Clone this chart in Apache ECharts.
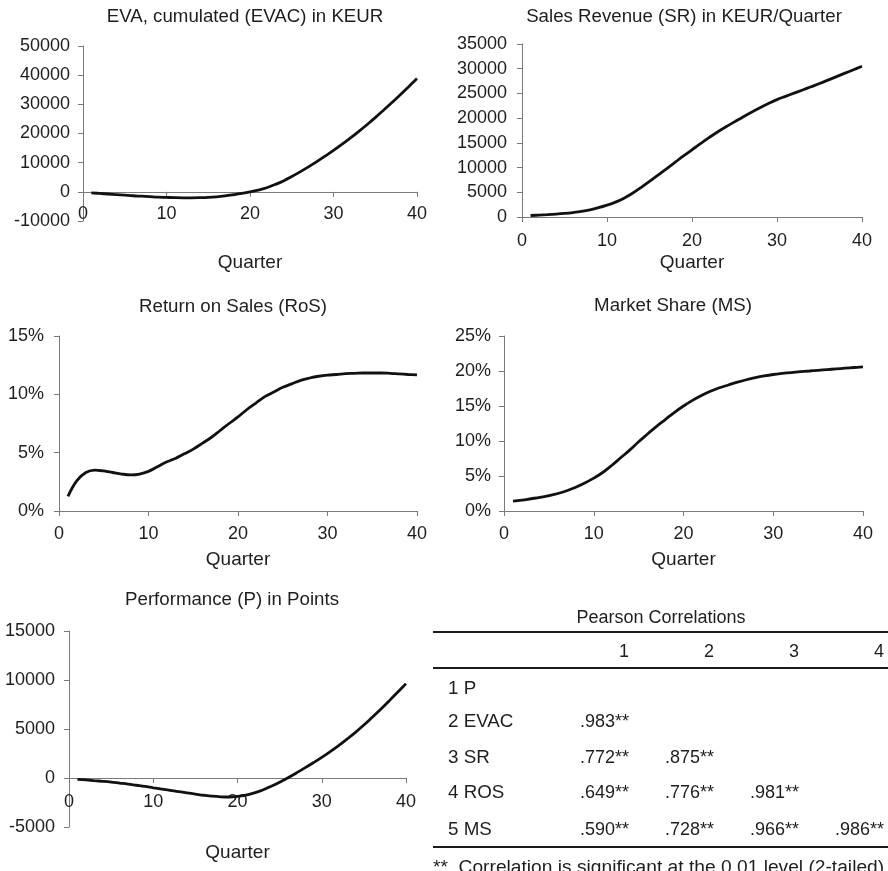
<!DOCTYPE html>
<html>
<head>
<meta charset="utf-8">
<script src="https://cdn.jsdelivr.net/npm/echarts@6/dist/echarts.min.js"></script>
<style>
html,body{margin:0;padding:0;background:#fff;}
#c{width:888px;height:871px;}
</style>
</head>
<body>
<div id="c"></div>
<script>
const quarters = [1,2,3,4,5,6,7,8,9,10,11,12,13,14,15,16,17,18,19,20,21,22,23,24,25,26,27,28,29,30,31,32,33,34,35,36,37,38,39,40];

const evac = [-350,-550,-750,-950,-1150,-1350,-1500,-1650,-1800,-1900,-2000,-2050,-2050,-2000,-1900,-1700,-1400,-1000,-550,0,
  600,1400,2500,3750,5250,6850,8550,10350,12250,14200,16250,18400,20650,23000,25450,28000,30600,33300,36050,38850];

const sr = [300,380,470,580,720,900,1130,1450,1880,2400,3000,3800,4800,5950,7200,8450,9750,11050,12350,13600,
  14850,16050,17200,18250,19250,20250,21200,22100,22950,23750,24400,25050,25700,26350,27000,27700,28400,29100,29800,30500];

const ros = [1.26,2.6,3.3,3.5,3.43,3.3,3.17,3.1,3.17,3.4,3.8,4.2,4.5,4.9,5.3,5.8,6.3,6.9,7.5,8.06,
  8.7,9.25,9.8,10.2,10.6,10.9,11.2,11.4,11.55,11.65,11.7,11.77,11.8,11.83,11.83,11.83,11.8,11.75,11.7,11.66];

const ms = [1.4,1.55,1.75,1.95,2.2,2.5,2.9,3.4,4.0,4.7,5.5,6.5,7.6,8.7,9.9,11.0,12.1,13.1,14.1,15.0,
  15.8,16.5,17.1,17.6,18.0,18.4,18.75,19.05,19.3,19.5,19.65,19.78,19.9,20.0,20.1,20.2,20.3,20.4,20.5,20.6];

const perf = [-150,-200,-270,-340,-420,-520,-620,-740,-860,-1000,-1130,-1260,-1400,-1520,-1640,-1760,-1860,-1920,-1940,-1880,
  -1740,-1520,-1220,-850,-430,30,520,1030,1560,2100,2690,3310,3970,4660,5400,6200,7020,7870,8740,9630];

const chartTitles = ["EVA, cumulated (EVAC) in KEUR","Sales Revenue (SR) in KEUR/Quarter","Return on Sales (RoS)","Market Share (MS)","Performance (P) in Points"];
const xAxisName = "Quarter";

const tableTitle = "Pearson Correlations";
const corrHeaders = ["1","2","3","4"];
const corrRowLabels = ["1 P","2 EVAC","3 SR","4 ROS","5 MS"];
const corrValues = [
  [],
  [".983**"],
  [".772**",".875**"],
  [".649**",".776**",".981**"],
  [".590**",".728**",".966**",".986**"]
];
const footnote = "**. Correlation is significant at the 0.01 level (2-tailed).";

const FONT = "'Liberation Sans', Arial, sans-serif";
const TXT = '#1e1e1e';
const AX = '#7a7a7a';

function pairs(vals){ return quarters.map((q,i)=>[q, vals[i]]); }

// layout (positions & styles only)
const panels = [
  {data: evac, grid:{left:83, top:46, width:334, height:175}, y:{min:-10000,max:50000,interval:10000}, pct:false, title:[245,17], nameGap:32, lm:-16, ym:13},
  {data: sr,   grid:{left:522, top:44, width:340, height:173}, y:{min:0,max:35000,interval:5000}, pct:false, title:[684,17], nameGap:36, lm:15, ym:15},
  {data: ros,  grid:{left:59, top:336, width:358, height:175}, y:{min:0,max:15,interval:5}, pct:true, title:[233,307], nameGap:39, lm:14, ym:15},
  {data: ms,   grid:{left:504, top:336, width:359, height:175}, y:{min:0,max:25,interval:5}, pct:true, title:[673,306], nameGap:39, lm:14, ym:13},
  {data: perf, grid:{left:69, top:631, width:337, height:196}, y:{min:-5000,max:15000,interval:5000}, pct:false, title:[232,600], nameGap:16, lm:-34, ym:14}
];

const grids=[], xAxes=[], yAxes=[], series=[], graphics=[];
panels.forEach((p,i)=>{
  grids.push(Object.assign({containLabel:false}, p.grid));
  xAxes.push({
    type:'value', gridIndex:i, min:0, max:40, interval:10,
    name: xAxisName, nameLocation:'middle', nameGap:p.nameGap,
    nameTextStyle:{fontFamily:FONT, fontSize:19, color:TXT},
    axisLine:{show:true, onZero:true, lineStyle:{color:AX, width:1}},
    axisTick:{show:true, inside:false, length:5, lineStyle:{color:AX}},
    axisLabel:{fontFamily:FONT, fontSize:18, color:TXT, margin:p.lm, showMinLabel:true, showMaxLabel:true, formatter:v=>String(v)},
    splitLine:{show:false}
  });
  yAxes.push({
    type:'value', gridIndex:i, min:p.y.min, max:p.y.max, interval:p.y.interval,
    axisLine:{show:true, onZero:false, lineStyle:{color:AX, width:1}},
    axisTick:{show:true, inside:false, length:5, lineStyle:{color:AX}},
    axisLabel:{fontFamily:FONT, fontSize:18, color:TXT, margin:p.ym, showMinLabel:true, showMaxLabel:true,
      formatter: p.pct ? (v=>v+'%') : (v=>String(v))},
    splitLine:{show:false}
  });
  series.push({
    type:'line', xAxisIndex:i, yAxisIndex:i, data:pairs(p.data), smooth:0.4,
    showSymbol:false, symbol:'none', silent:true,
    lineStyle:{color:'#111', width:2.8}
  });
  graphics.push({type:'text', silent:true, style:{text:chartTitles[i], x:p.title[0], y:p.title[1],
    font:'18.7px '+FONT, fill:TXT, align:'center', verticalAlign:'middle', textAlign:'center', textVerticalAlign:'middle'}});
});

// table
const tb = {x0:433, x1:888, titleY:618, topLine:632, headY:652, headLine:668, rowY:[689,722,758,793,830], botLine:847, footY:868, labelX:448, colX:[629,714,799,884]};
function txt(t,x,y,al,sz){ return {type:'text', silent:true, style:{text:t, x:x, y:y, font:(sz||18)+'px '+FONT, fill:TXT,
  align:al, verticalAlign:'middle', textAlign:al, textVerticalAlign:'middle'}}; }
function hline(y){ return {type:'line', silent:true, shape:{x1:tb.x0, y1:y, x2:tb.x1, y2:y}, style:{stroke:'#1a1a1a', lineWidth:2}}; }
graphics.push(txt(tableTitle, 661, tb.titleY, 'center'));
graphics.push(hline(tb.topLine), hline(tb.headLine), hline(tb.botLine));
corrHeaders.forEach((h,j)=>graphics.push(txt(h, tb.colX[j], tb.headY, 'right')));
corrRowLabels.forEach((r,i)=>{
  graphics.push(txt(r, tb.labelX, tb.rowY[i], 'left', 18.8));
  corrValues[i].forEach((v,j)=>graphics.push(txt(v, tb.colX[j], tb.rowY[i], 'right')));
});
graphics.push(txt(footnote, tb.x0, tb.footY, 'left', 19.2));

const chart = echarts.init(document.getElementById('c'), null, {renderer:'canvas'});
chart.setOption({
  backgroundColor:'#fff',
  animation:false,
  grid:grids, xAxis:xAxes, yAxis:yAxes, series:series,
  graphic:graphics
});
</script>
</body>
</html>
